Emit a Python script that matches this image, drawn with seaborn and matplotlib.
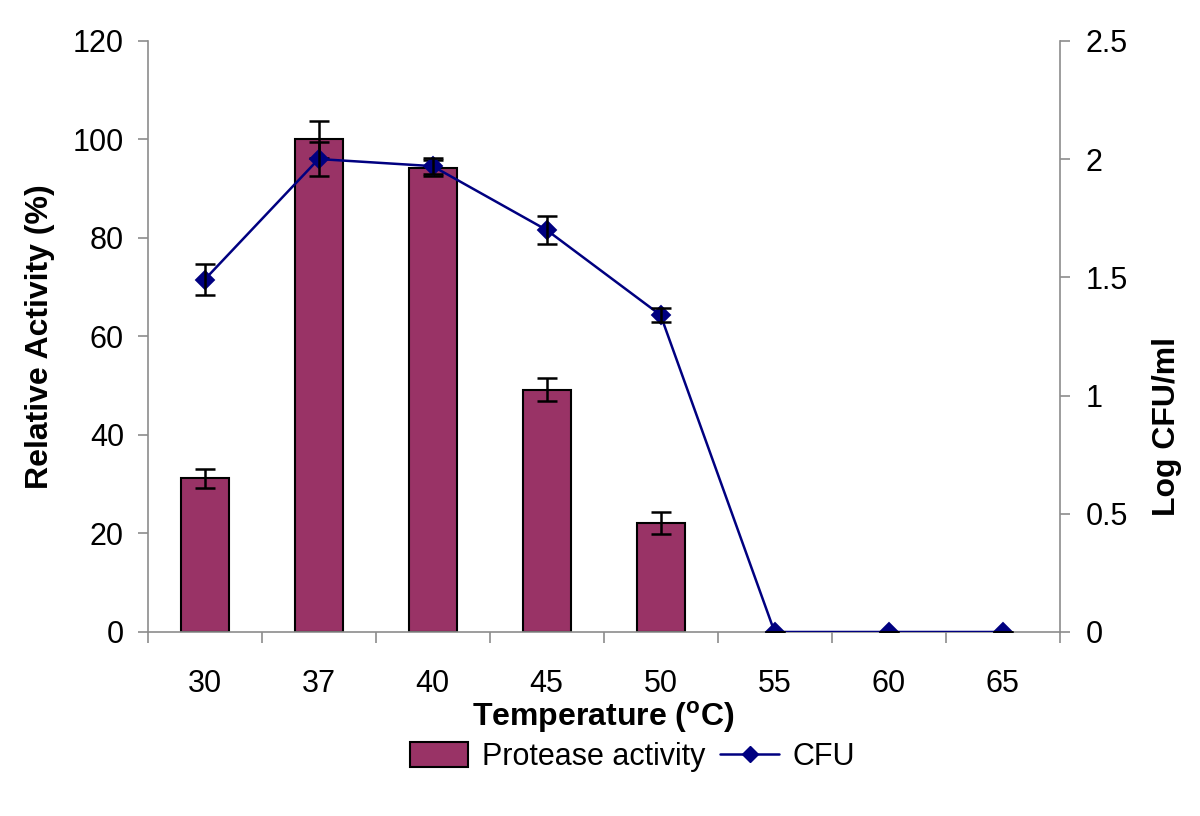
import numpy as np
import pandas as pd
import matplotlib
matplotlib.use('Agg')
import matplotlib.pyplot as plt
import seaborn as sns
from matplotlib.patches import Patch
from matplotlib.lines import Line2D

# values
temps = ['30', '37', '40', '45', '50', '55', '60', '65']
bar_temps = ['30', '37', '40', '45', '50']
activity = [31.2, 100.0, 94.2, 49.2, 22.1]
activity_err = [1.9, 3.7, 1.6, 2.3, 2.2]
cfu = [1.49, 2.0, 1.97, 1.70, 1.34, 0.0, 0.0, 0.0]
cfu_err = [0.066, 0.07, 0.035, 0.06, 0.028, 0.0, 0.0, 0.0]

sns.set_style('white')
plt.rcParams['font.family'] = ['Liberation Sans', 'DejaVu Sans']
plt.rcParams['mathtext.fontset'] = 'custom'
plt.rcParams['mathtext.rm'] = 'Liberation Sans'
plt.rcParams['mathtext.bf'] = 'Liberation Sans:bold'
plt.rcParams['text.color'] = 'black'
plt.rcParams['axes.labelcolor'] = 'black'

bar_color = '#993366'
line_color = '#000080'
grey = '#8c8c8c'

fig = plt.figure(figsize=(12, 8.16), dpi=100)
ax = fig.add_axes([0.123, 0.2255, 0.76, 0.7245])

bar_df = pd.DataFrame({'Temperature': bar_temps, 'Activity': activity})
sns.barplot(data=bar_df, x='Temperature', y='Activity', order=temps,
            color=bar_color, saturation=1, width=0.42, edgecolor='black',
            linewidth=1.5, errorbar=None, ax=ax)
ax.errorbar([temps.index(t) for t in bar_temps], activity, yerr=activity_err,
            fmt='none', ecolor='black', elinewidth=1.8, capsize=7, capthick=1.8,
            zorder=5)

ax.set_ylim(0, 120)
ax.set_xlim(-0.5, 7.5)
ax.set_yticks(range(0, 121, 20))
ax.set_ylabel('Relative Activity (%)', fontsize=23, fontweight='bold')
ax.yaxis.set_label_coords(-0.101, 0.5)
ax.set_xlabel('Temperature ($^{\\mathbf{o}}$C)', fontsize=23, fontweight='bold', labelpad=0)

ax2 = ax.twinx()
cfu_df = pd.DataFrame({'Temperature': temps, 'CFU': cfu})
sns.pointplot(data=cfu_df, x='Temperature', y='CFU', order=temps, color=line_color,
              markers='D', linestyles='-', errorbar=None, ax=ax2,
              markersize=9, linewidth=1.8)
ax2.errorbar(range(len(temps)), cfu, yerr=cfu_err, fmt='none', ecolor='black',
             elinewidth=1.8, capsize=7, capthick=1.8, zorder=6)
ax2.set_ylim(0, 2.5)
ax2.set_xlim(-0.5, 7.5)
ax2.set_yticks([0, 0.5, 1, 1.5, 2, 2.5])
ax2.set_yticklabels(['0', '0.5', '1', '1.5', '2', '2.5'])
ax2.set_ylabel('Log CFU/ml', fontsize=23, fontweight='bold')
ax2.yaxis.set_label_coords(1.101, 0.347)
ax2.set_xlabel('')

for a in (ax, ax2):
    a.spines['top'].set_visible(False)
    for s in ['left', 'right', 'bottom']:
        a.spines[s].set_color(grey)
        a.spines[s].set_linewidth(1.2)
ax.spines['right'].set_visible(False)
ax2.spines['left'].set_visible(False)
ax2.spines['bottom'].set_visible(False)

ax.tick_params(axis='y', which='major', direction='out', length=7, width=1.2,
               color=grey, labelcolor='black', labelsize=22, left=True, pad=10)
ax2.tick_params(axis='y', which='major', direction='out', length=7, width=1.2,
                color=grey, labelcolor='black', labelsize=22, right=True, pad=11.5)
ax.set_xticks(range(len(temps)))
ax.set_xticklabels(temps)
ax.set_xticks(np.arange(-0.5, 8, 1), minor=True)
ax.tick_params(axis='x', which='major', length=0, labelsize=22, labelcolor='black', pad=27)
ax.tick_params(axis='x', which='minor', direction='out', length=8, width=1.2,
               color=grey, bottom=True)

handles = [Patch(facecolor=bar_color, edgecolor='black', linewidth=1.5),
           Line2D([], [], color=line_color, marker='D', markersize=8, linewidth=1.8)]
fig.legend(handles, ['Protease activity', 'CFU'], loc='center',
           bbox_to_anchor=(0.527, 0.072), ncol=2, frameon=False, fontsize=22,
           handlelength=1.9, handleheight=0.9, columnspacing=0.5, handletextpad=0.45)

fig.savefig('out.png', dpi=100)
